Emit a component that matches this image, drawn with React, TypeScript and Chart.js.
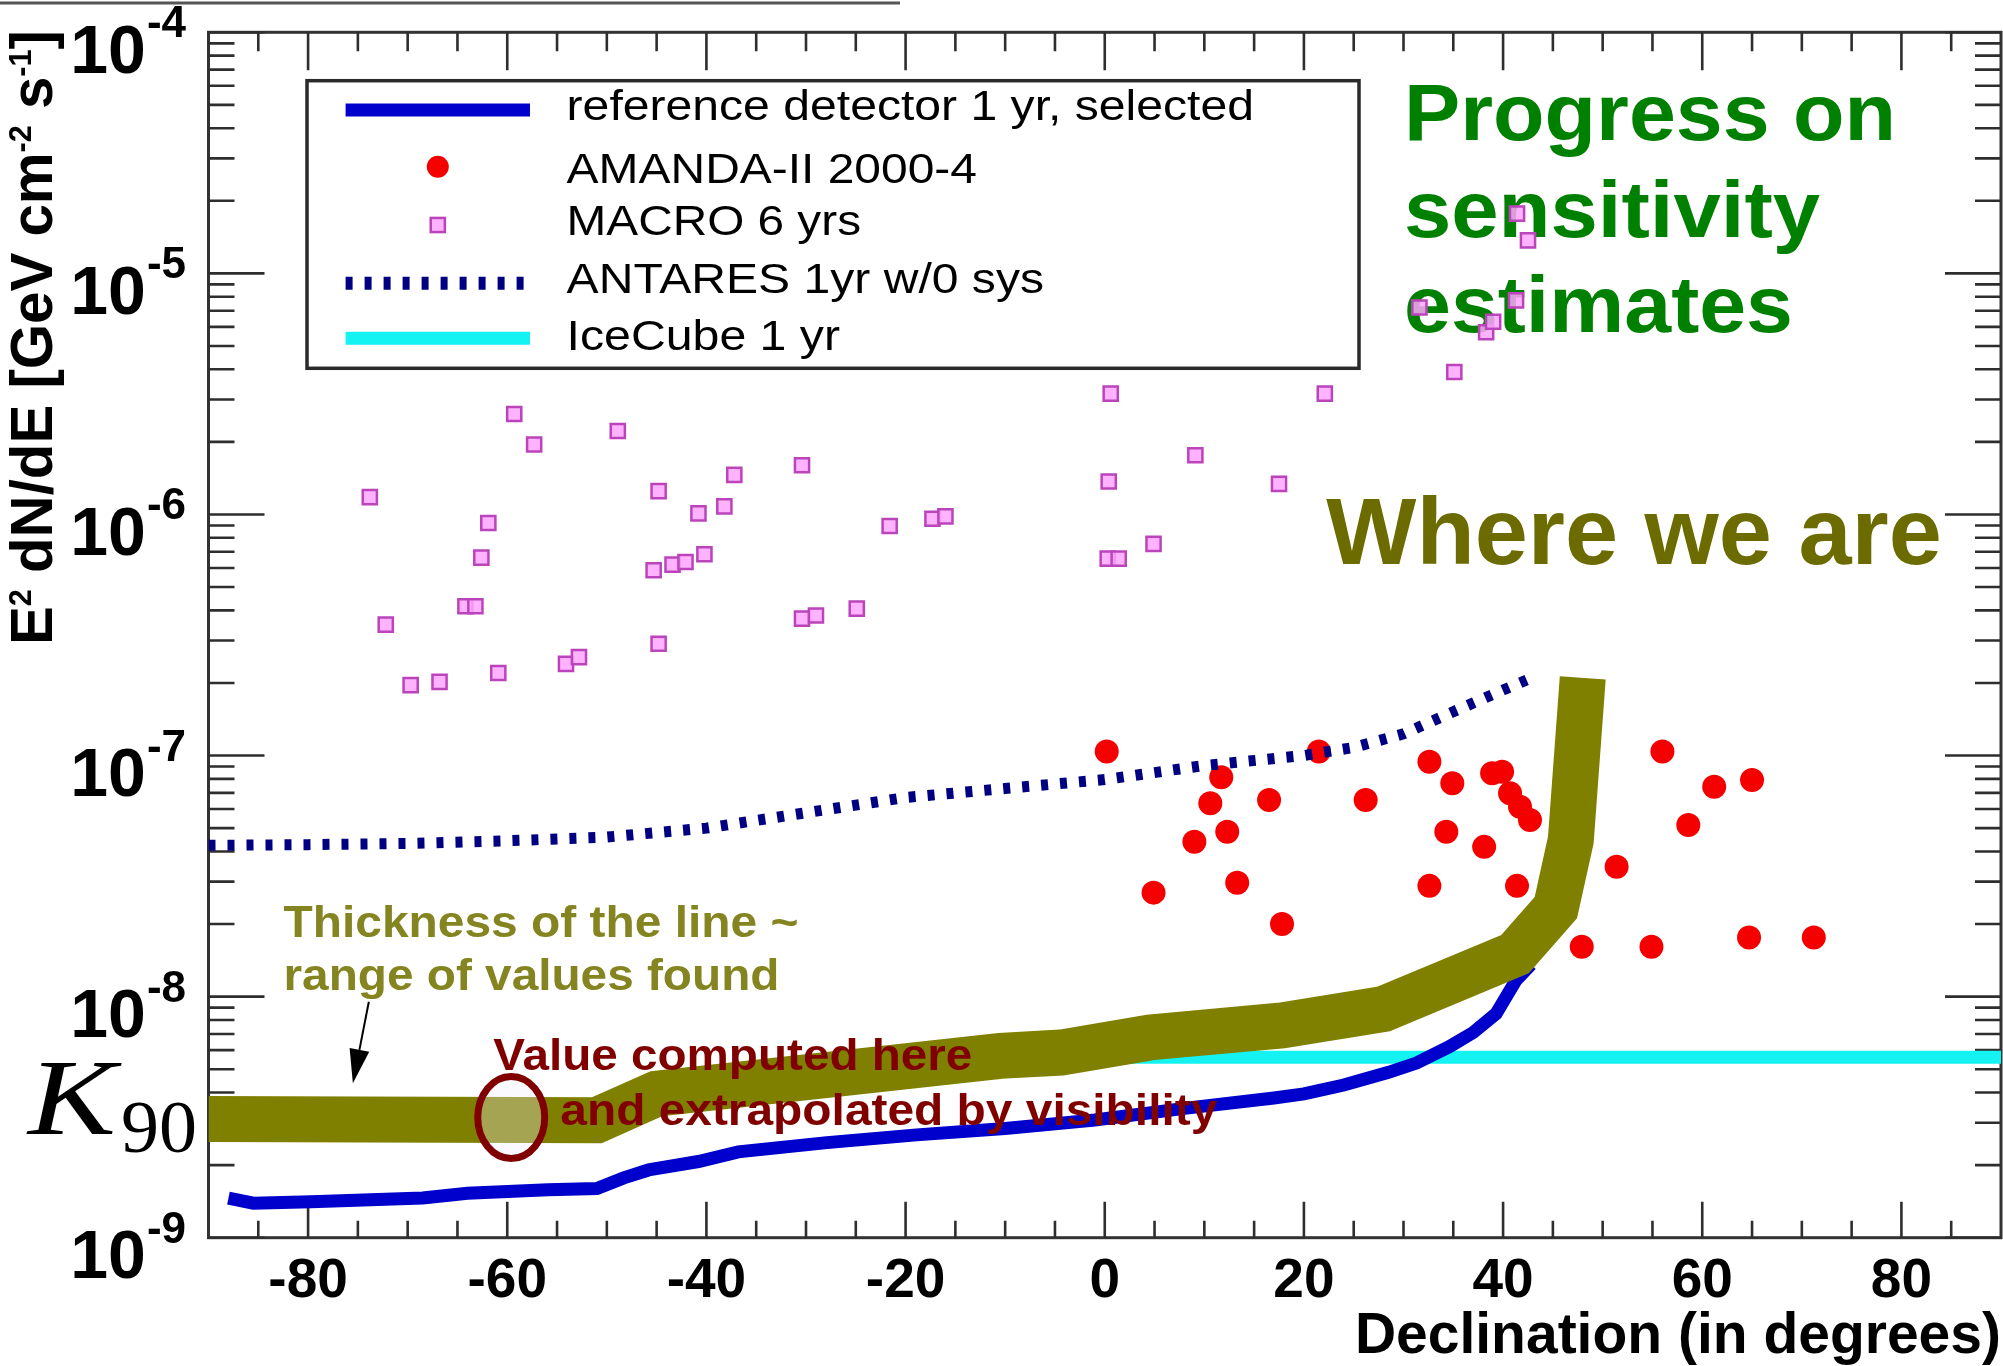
import React, { useEffect, useRef } from 'react';
import { Chart, registerables } from 'chart.js';

Chart.register(...registerables);

const CANVAS_W = 2003;
const CANVAS_H = 1366;
const SANS = '"Liberation Sans", Arial, Helvetica, sans-serif';
const SERIF = '"Liberation Serif", "Times New Roman", serif';

// ---------- data (declination in degrees, E^2 dN/dE in GeV cm^-2 s^-1) ----------
const refDecl = [-88, -85.5, -79.7, -68.5, -64, -55.9, -51, -48.3, -45.8, -40.8, -36.8, -27.9, -18.9, -10, -1, 8, 17, 20, 24, 28.5, 31.3, 34.6, 37, 39.3, 41.3, 42.8];
const refFlux = [1.46e-9, 1.39e-9, 1.41e-9, 1.46e-9, 1.53e-9, 1.58e-9, 1.6e-9, 1.77e-9, 1.91e-9, 2.07e-9, 2.27e-9, 2.48e-9, 2.67e-9, 2.84e-9, 3.08e-9, 3.44e-9, 3.8e-9, 3.95e-9, 4.3e-9, 4.85e-9, 5.3e-9, 6.2e-9, 7.1e-9, 8.5e-9, 1.17e-8, 1.36e-8];

const amandaDecl = [0.2, 10.6, 11.7, 9.0, 12.3, 4.9, 13.3, 16.5, 17.8, 21.5, 26.2, 32.6, 34.9, 34.3, 32.6, 38.9, 39.9, 40.7, 41.7, 42.7, 38.1, 41.4, 47.9, 51.4, 54.9, 56.0, 58.6, 61.2, 65.0, 64.7, 71.2];
const amandaFlux = [1.04e-7, 6.34e-8, 8.12e-8, 4.39e-8, 4.83e-8, 2.7e-8, 2.97e-8, 6.54e-8, 2.0e-8, 1.04e-7, 6.54e-8, 9.43e-8, 7.67e-8, 4.83e-8, 2.88e-8, 8.44e-8, 8.57e-8, 6.97e-8, 6.13e-8, 5.4e-8, 4.18e-8, 2.88e-8, 1.61e-8, 3.46e-8, 1.61e-8, 1.04e-7, 5.15e-8, 7.42e-8, 7.91e-8, 1.76e-8, 1.76e-8];

const macroDecl = [-73.8, -72.2, -69.7, -66.8, -64.2, -63.2, -62.6, -61.9, -60.9, -59.3, -57.3, -54.1, -52.8, -48.9, -44.8, -45.3, -44.8, -43.4, -42.1, -40.2, -40.8, -38.2, -37.2, -30.4, -30.4, -29.0, -24.9, -21.6, -17.3, -16.0, 0.4, 0.6, 0.3, 1.4, 4.9, 9.1, 17.5, 22.1, 31.6, 35.1, 38.3, 39.0, 41.3, 41.4, 42.5];
const macroFlux = [1.18e-6, 3.49e-7, 1.96e-7, 2.02e-7, 4.16e-7, 4.16e-7, 6.62e-7, 9.22e-7, 2.2e-7, 2.61e-6, 1.95e-6, 2.4e-7, 2.56e-7, 2.22e-6, 1.25e-6, 5.87e-7, 2.91e-7, 6.19e-7, 6.35e-7, 6.84e-7, 1.01e-6, 1.08e-6, 1.46e-6, 1.6e-6, 3.7e-7, 3.81e-7, 4.07e-7, 8.96e-7, 9.6e-7, 9.82e-7, 1.37e-6, 3.17e-6, 6.56e-7, 6.56e-7, 7.55e-7, 1.76e-6, 1.34e-6, 3.17e-6, 7.22e-6, 3.9e-6, 5.7e-6, 6.3e-6, 7.73e-6, 1.77e-5, 1.37e-5];

const antaresDecl = [-90, -80, -70, -60, -50, -40, -30, -20, -10, 0, 10, 20, 25, 30, 35, 40, 43];
const antaresFlux = [4.24e-8, 4.27e-8, 4.32e-8, 4.43e-8, 4.59e-8, 5.0e-8, 5.79e-8, 6.7e-8, 7.3e-8, 7.95e-8, 9.09e-8, 1.0e-7, 1.08e-7, 1.23e-7, 1.52e-7, 1.87e-7, 2.11e-7];

const icecubeDecl = [0, 90];
const icecubeFlux = [5.6e-9, 5.6e-9];

// "Where we are" band (centre line; its thickness = range of values found)
const bandDecl = [-90, -51, -45, -10.5, -4.4, 4.5, 17.8, 28, 41.2, 45.3, 46.8, 48.0];
const bandFlux = [3.11e-9, 3.07e-9, 3.96e-9, 5.68e-9, 5.86e-9, 6.77e-9, 7.59e-9, 8.88e-9, 1.5e-8, 2.34e-8, 4.46e-8, 2.1e-7];

// marker: value computed here
const markerDecl = -59.6;
const markerFlux = 3.15e-9;
// arrow from annotation text to the band
const arrowFromDecl = -73.9;
const arrowFromFlux = 9.52e-9;
const arrowToDecl = -75.5;
const arrowToFlux = 4.37e-9;

const xTickValues = [-80, -60, -40, -20, 0, 20, 40, 60, 80];
const yTickExponents = [-9, -8, -7, -6, -5, -4];

const legendLabels = ['reference detector 1 yr, selected', 'AMANDA-II 2000-4', 'MACRO 6 yrs', 'ANTARES 1yr w/0 sys', 'IceCube 1 yr'];

const zip = (xs: number[], ys: number[]) => xs.map((x, i) => ({ x, y: ys[i] }));

function fitText(ctx: CanvasRenderingContext2D, text: string, x: number, y: number, font: string, color: string, targetW: number) {
  ctx.save();
  ctx.font = font;
  const w = ctx.measureText(text).width;
  ctx.translate(x, y);
  ctx.scale(targetW / w, 1);
  ctx.fillStyle = color;
  ctx.textAlign = 'left';
  ctx.textBaseline = 'alphabetic';
  ctx.fillText(text, 0, 0);
  ctx.restore();
}

const paperPlugin = {
  id: 'paperDecor',
  beforeDatasetsDraw(chart: any) {
    const { ctx, chartArea: a } = chart;
    const xs = chart.scales.x;
    const ys = chart.scales.y;
    ctx.save();
    // remnant rule at the top of the slide
    ctx.strokeStyle = '#555';
    ctx.lineWidth = 3;
    ctx.beginPath();
    ctx.moveTo(0, 3);
    ctx.lineTo(900, 3);
    ctx.stroke();

    // frame
    ctx.strokeStyle = '#333';
    ctx.lineWidth = 3;
    ctx.strokeRect(a.left, a.top, a.right - a.left, a.bottom - a.top);

    // ticks
    ctx.lineWidth = 2.6;
    ctx.strokeStyle = '#2e2e2e';
    ctx.beginPath();
    for (let e = -9; e <= -4; e++) {
      for (let m = 1; m <= 9; m++) {
        if (e === -4 && m > 1) break;
        const py = ys.getPixelForValue(m * Math.pow(10, e));
        const len = m === 1 ? 56 : 26;
        ctx.moveTo(a.left, py);
        ctx.lineTo(a.left + len, py);
        ctx.moveTo(a.right, py);
        ctx.lineTo(a.right - len, py);
      }
    }
    for (let d = -85; d <= 85; d += 5) {
      const px = xs.getPixelForValue(d);
      const major = d % 20 === 0;
      ctx.moveTo(px, a.bottom);
      ctx.lineTo(px, a.bottom - (major ? 36 : 17));
      ctx.moveTo(px, a.top);
      ctx.lineTo(px, a.top + (major ? 38 : 19));
    }
    ctx.stroke();

    // y tick labels 10^n
    ctx.fillStyle = '#000';
    ctx.textAlign = 'right';
    ctx.textBaseline = 'alphabetic';
    ys.ticks.forEach((t: any) => {
      const e = Math.round(Math.log10(t.value));
      const py = ys.getPixelForValue(t.value);
      ctx.font = `bold 44px ${SANS}`;
      const sup = String(e);
      const sw = ctx.measureText(sup).width;
      ctx.fillText(sup, 186, py + 5);
      ctx.font = `bold 68px ${SANS}`;
      ctx.fillText('10', 186 - sw - 1, py + 40.5);
    });

    // y axis title, rotated
    const parts: [string, boolean][] = [['E', false], ['2', true], [' dN/dE [GeV cm', false], ['-2', true], [' s', false], ['-1', true], [']', false]];
    const mainFont = `bold 57px ${SANS}`;
    const supFont = `bold 30px ${SANS}`;
    let total = 0;
    const widths = parts.map(([t, s]) => {
      ctx.font = s ? supFont : mainFont;
      const w = ctx.measureText(t).width;
      total += w;
      return w;
    });
    ctx.save();
    ctx.translate(52, 645);
    ctx.rotate(-Math.PI / 2);
    ctx.scale(615 / total, 1.05);
    ctx.textAlign = 'left';
    let off = 0;
    parts.forEach(([t, s], i) => {
      ctx.font = s ? supFont : mainFont;
      ctx.fillText(t, off, s ? -20 : 0);
      off += widths[i];
    });
    ctx.restore();

    // headline
    fitText(ctx, 'Progress on', 1404, 140, `bold 80px ${SANS}`, '#008000', 492);
    fitText(ctx, 'sensitivity', 1404, 236.7, `bold 80px ${SANS}`, '#008000', 416);
    fitText(ctx, 'estimates', 1404, 331.7, `bold 80px ${SANS}`, '#008000', 389);
    ctx.restore();
  },
  afterDatasetsDraw(chart: any) {
    const { ctx } = chart;
    const xs = chart.scales.x;
    const ys = chart.scales.y;
    const ds = chart.data.datasets;
    ctx.save();

    // legend box
    const L = { x0: 307, y0: 80.7, x1: 1359, y1: 368.3, s0: 345.6, s1: 530, tx: 566.6 };
    ctx.fillStyle = '#fff';
    ctx.fillRect(L.x0, L.y0, L.x1 - L.x0, L.y1 - L.y0);
    ctx.strokeStyle = '#2a2a2a';
    ctx.lineWidth = 3.5;
    ctx.strokeRect(L.x0, L.y0, L.x1 - L.x0, L.y1 - L.y0);
    const rowY = [110, 166.7, 225, 283.3, 338.3];
    const baseY = [120, 183.3, 235, 293.3, 350];
    const textEnd = [1254, 977, 861, 1044, 840];
    const dsIndex = [1, 3, 4, 2, 5];
    const cx = (L.s0 + L.s1) / 2;
    dsIndex.forEach((di, r) => {
      const d = ds[di];
      const y = rowY[r];
      if (d.showLine) {
        ctx.save();
        ctx.strokeStyle = d.borderColor;
        ctx.lineWidth = 13;
        ctx.setLineDash(d.borderDash || []);
        ctx.lineCap = 'butt';
        ctx.beginPath();
        ctx.moveTo(L.s0, y);
        ctx.lineTo(L.s1, y);
        ctx.stroke();
        ctx.restore();
      } else if (d.pointStyle === 'rect') {
        const s = d.pointRadius * Math.SQRT1_2;
        ctx.fillStyle = d.pointBackgroundColor;
        ctx.fillRect(cx - s, y - s, 2 * s, 2 * s);
        ctx.strokeStyle = d.pointBorderColor;
        ctx.lineWidth = d.pointBorderWidth;
        ctx.strokeRect(cx - s, y - s, 2 * s, 2 * s);
      } else {
        ctx.fillStyle = d.pointBackgroundColor;
        ctx.beginPath();
        ctx.arc(cx, y, 11, 0, Math.PI * 2);
        ctx.fill();
      }
      fitText(ctx, d.label, L.tx, baseY[r], `42px ${SANS}`, '#000', textEnd[r] - L.tx);
    });

    // "Where we are"
    fitText(ctx, 'Where we are', 1326.3, 564, `bold 94px ${SANS}`, '#6b6b00', 615.5);

    // thickness annotation + arrow
    fitText(ctx, 'Thickness of the line ~', 283.5, 937.3, `bold 45px ${SANS}`, '#848420', 515);
    fitText(ctx, 'range of values found', 283.5, 990, `bold 45px ${SANS}`, '#848420', 496);
    const ax0 = xs.getPixelForValue(arrowFromDecl);
    const ay0 = ys.getPixelForValue(arrowFromFlux);
    const ax1 = xs.getPixelForValue(arrowToDecl);
    const ay1 = ys.getPixelForValue(arrowToFlux);
    const ang = Math.atan2(ay1 - ay0, ax1 - ax0);
    const hl = 34;
    const hw = 10;
    const bx = ax1 - hl * Math.cos(ang);
    const by = ay1 - hl * Math.sin(ang);
    ctx.strokeStyle = '#000';
    ctx.lineWidth = 2;
    ctx.beginPath();
    ctx.moveTo(ax0, ay0);
    ctx.lineTo(bx, by);
    ctx.stroke();
    ctx.fillStyle = '#000';
    ctx.beginPath();
    ctx.moveTo(ax1, ay1);
    ctx.lineTo(bx + hw * Math.sin(ang), by - hw * Math.cos(ang));
    ctx.lineTo(bx - hw * Math.sin(ang), by + hw * Math.cos(ang));
    ctx.closePath();
    ctx.fill();

    // marker ellipse
    const mx = xs.getPixelForValue(markerDecl);
    const my = ys.getPixelForValue(markerFlux);
    ctx.beginPath();
    ctx.ellipse(mx, my, 33.5, 41, 0, 0, Math.PI * 2);
    ctx.fillStyle = 'rgba(236,236,252,0.33)';
    ctx.fill();
    ctx.strokeStyle = '#800000';
    ctx.lineWidth = 7;
    ctx.stroke();

    fitText(ctx, 'Value computed here', 493.3, 1070, `bold 44px ${SANS}`, '#800000', 479);
    fitText(ctx, 'and extrapolated by visibility', 560.3, 1125, `bold 44px ${SANS}`, '#800000', 657);

    // K_90 label
    fitText(ctx, 'K', 28, 1134, `italic 108px ${SERIF}`, '#000', 88);
    fitText(ctx, '90', 121, 1151.7, `74px ${SERIF}`, '#000', 76);
    ctx.restore();
  },
};

export default function App() {
  const ref = useRef<HTMLCanvasElement>(null);
  useEffect(() => {
    const canvas = ref.current;
    if (!canvas) return;
    const chart = new Chart(canvas, {
      type: 'scatter',
      data: {
        datasets: [
          {
            label: 'Where we are',
            data: zip(bandDecl, bandFlux),
            showLine: true,
            borderColor: '#808000',
            borderWidth: 46,
            borderJoinStyle: 'miter',
            borderCapStyle: 'butt',
            pointRadius: 0,
            pointHoverRadius: 0,
          },
          {
            label: legendLabels[0],
            data: zip(refDecl, refFlux),
            showLine: true,
            borderColor: '#0000cc',
            borderWidth: 13,
            pointRadius: 0,
            pointHoverRadius: 0,
          },
          {
            label: legendLabels[3],
            data: zip(antaresDecl, antaresFlux),
            showLine: true,
            borderColor: '#000080',
            borderWidth: 11,
            borderDash: [7, 12],
            pointRadius: 0,
            pointHoverRadius: 0,
          },
          {
            label: legendLabels[1],
            data: zip(amandaDecl, amandaFlux),
            showLine: false,
            pointStyle: 'circle',
            pointRadius: 12,
            pointHoverRadius: 12,
            pointBackgroundColor: '#f50000',
            pointBorderColor: '#e00000',
            pointBorderWidth: 0,
          },
          {
            label: legendLabels[2],
            data: zip(macroDecl, macroFlux),
            showLine: false,
            pointStyle: 'rect',
            pointRadius: 10,
            pointHoverRadius: 10,
            pointBackgroundColor: 'rgba(255,165,255,0.85)',
            pointBorderColor: '#bb44bb',
            pointBorderWidth: 2.5,
          },
          {
            label: legendLabels[4],
            data: zip(icecubeDecl, icecubeFlux),
            showLine: true,
            borderColor: '#14f2f2',
            borderWidth: 13,
            pointRadius: 0,
            pointHoverRadius: 0,
          },
        ],
      },
      options: {
        responsive: false,
        animation: false,
        devicePixelRatio: 1,
        events: [],
        layout: { autoPadding: false, padding: { left: 0, right: 2, top: 32.3, bottom: 0 } },
        plugins: { legend: { display: false }, tooltip: { enabled: false } },
        scales: {
          x: {
            type: 'linear',
            min: -90,
            max: 90,
            grid: { display: false },
            border: { display: false },
            afterBuildTicks: (s: any) => {
              s.ticks = xTickValues.map((v) => ({ value: v }));
            },
            afterFit: (s: any) => {
              s.height = CANVAS_H - 1237.7;
              s.paddingLeft = 0;
              s.paddingRight = 0;
            },
            ticks: {
              autoSkip: false,
              maxRotation: 0,
              padding: 3,
              color: '#000',
              font: { family: SANS, size: 55, weight: 'bold' },
              callback: (v: any) => String(v),
            },
            title: {
              display: true,
              text: 'Declination (in degrees)',
              align: 'end',
              color: '#000',
              padding: 0,
              font: { family: SANS, size: 57, weight: 'bold', lineHeight: 1.0 },
            },
          },
          y: {
            type: 'logarithmic',
            min: 1e-9,
            max: 1e-4,
            grid: { display: false },
            border: { display: false },
            afterBuildTicks: (s: any) => {
              s.ticks = yTickExponents.map((e) => ({ value: Math.pow(10, e) }));
            },
            afterFit: (s: any) => {
              s.width = 208.5;
            },
            ticks: { display: false },
          },
        },
      } as any,
      plugins: [paperPlugin as any],
    } as any);
    return () => chart.destroy();
  }, []);

  return (
    <div style={{ position: 'fixed', left: 0, top: 0, width: CANVAS_W, height: CANVAS_H, background: '#fff', overflow: 'hidden' }}>
      <canvas ref={ref} width={CANVAS_W} height={CANVAS_H} style={{ display: 'block', width: CANVAS_W, height: CANVAS_H }} />
    </div>
  );
}
